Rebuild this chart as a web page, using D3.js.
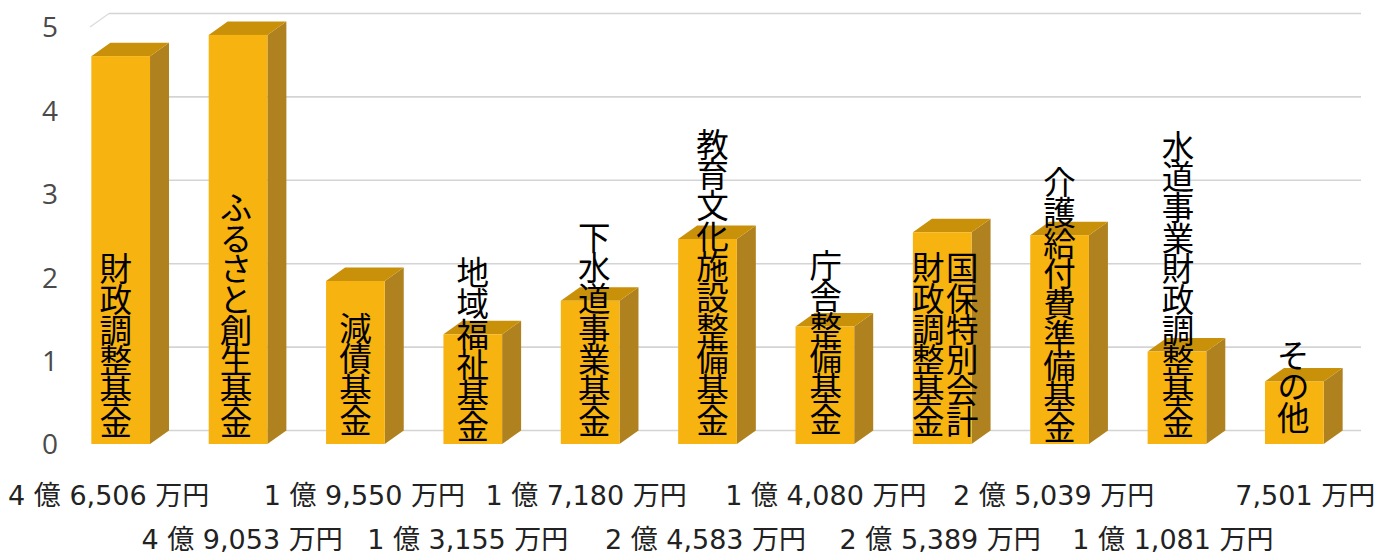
<!DOCTYPE html>
<html>
<head>
<meta charset="utf-8">
<script src="https://cdn.jsdelivr.net/npm/d3@7"></script>
<style>
html, body { margin: 0; padding: 0; background: #fff; }
svg { display: block; }
.fund { font-family: "Noto Sans CJK JP"; font-size: 32.5px; font-weight: 400; letter-spacing: -1.8px; fill: #000; writing-mode: vertical-rl; }
.amount { font-family: "DejaVu Sans", "Noto Sans CJK JP"; font-size: 27px; fill: #222; }
.yAxis text { font-family: "Open Sans"; font-size: 28px; fill: #4a4a4a; }
</style>
</head>
<body>
<div id="chart"></div>
<script>
var funds = [
    ['財政調整基金'],
    ['ふるさと創生基金'],
    ['減債基金'],
    ['地域福祉基金'],
    ['下水道事業基金'],
    ['教育文化施設整備基金'],
    ['庁舎整備基金'],
    ['国保特別会計', '財政調整基金'],
    ['介護給付費準備基金'],
    ['水道事業財政調整基金'],
    ['その他']
];
var values = [4.6506, 4.9053, 1.9550, 1.3155, 1.7180, 2.4583, 1.4080, 2.5389, 2.5039, 1.1081, 0.7501];
var amounts = [
    '4 億 6,506 万円', '4 億 9,053 万円', '1 億 9,550 万円', '1 億 3,155 万円',
    '1 億 7,180 万円', '2 億 4,583 万円', '1 億 4,080 万円', '2 億 5,389 万円',
    '2 億 5,039 万円', '1 億 1,081 万円', '7,501 万円'
];
var yTicks = [0, 1, 2, 3, 4, 5];

var width = 1392;
var height = 555;
var depthX = 19;
var depthY = 13.5;

// small shifts the original text boxes have
var labelShift = [0, 0, -2, 4, -1, -2, -3, -1, 5, 0, -5];
var labelX = [-5, -2, 0, 0, 4, 5, 1, 2, 0, 1, -1];
var amountX = [-12, 4, 9, -5, -4, -2, 1, -2, -6, -4, 11];

var svg = d3
    .select('#chart')
    .append('svg')
    .attr('width', width)
    .attr('height', height)
    .style('background', '#fff');

var xScale = d3
    .scaleBand()
    .domain(d3.range(funds.length))
    .range([62, 1353])
    .paddingInner(0.5)
    .paddingOuter(0.25);

var yScale = d3
    .scaleLinear()
    .domain([0, 5])
    .range([444, 27]);

// gridlines sit on the back wall
svg.append('g')
    .selectAll('line')
    .data(yTicks)
    .enter()
    .append('line')
    .attr('x1', 90 + depthX)
    .attr('x2', 1361)
    .attr('y1', d => yScale(d) - depthY)
    .attr('y2', d => yScale(d) - depthY)
    .attr('stroke', '#d4d4d4')
    .attr('stroke-width', 1.6);

svg.append('line')
    .attr('x1', 90)
    .attr('y1', yScale(5))
    .attr('x2', 90 + depthX)
    .attr('y2', yScale(5) - depthY)
    .attr('stroke', '#dcdcdc')
    .attr('stroke-width', 1.4);

var yAxis = d3.axisLeft(yScale).tickValues(yTicks).tickFormat(d3.format('d')).tickSize(0).tickPadding(0);

svg.append('g')
    .attr('class', 'yAxis')
    .attr('transform', 'translate(58,1)')
    .call(yAxis)
    .call(g => g.select('.domain').remove());

var bars = svg
    .selectAll('g.bar')
    .data(values)
    .enter()
    .append('g')
    .attr('class', 'bar');

function pts(list) {
    return list.map(p => p.join(',')).join(' ');
}

// side face
bars.append('polygon')
    .attr('fill', '#b0821f')
    .attr('points', (d, i) => {
        var r = xScale(i) + xScale.bandwidth();
        return pts([[r, yScale(d)], [r + depthX, yScale(d) - depthY], [r + depthX, yScale(0) - depthY], [r, yScale(0)]]);
    });

// top face
bars.append('polygon')
    .attr('fill', '#c9900a')
    .attr('points', (d, i) => {
        var l = xScale(i);
        var r = l + xScale.bandwidth();
        return pts([[l, yScale(d)], [l + depthX, yScale(d) - depthY], [r + depthX, yScale(d) - depthY], [r, yScale(d)]]);
    });

// front face
bars.append('rect')
    .attr('fill', '#f7b30f')
    .attr('x', (d, i) => xScale(i))
    .attr('y', d => yScale(d))
    .attr('width', xScale.bandwidth())
    .attr('height', d => yScale(0) - yScale(d));

// vertical fund names, anchored at the bottom so they end near the axis
funds.forEach((lines, i) => {
    var cx = xScale(i) + xScale.bandwidth() / 2 + labelX[i];
    lines.forEach((line, j) => {
        var off = lines.length > 1 ? (j === 0 ? 18 : -16) : 0;
        svg.append('text')
            .attr('class', 'fund')
            .attr('x', cx + off)
            .attr('y', yScale(0) - 7 + labelShift[i])
            .attr('text-anchor', 'end')
            .text(line);
    });
});

svg.selectAll('text.amount')
    .data(amounts)
    .enter()
    .append('text')
    .attr('class', 'amount')
    .attr('x', (d, i) => xScale(i) + xScale.bandwidth() / 2 + amountX[i])
    .attr('y', (d, i) => i % 2 === 0 ? 505 : 549)
    .attr('text-anchor', 'middle')
    .text(d => d);
</script>
</body>
</html>
